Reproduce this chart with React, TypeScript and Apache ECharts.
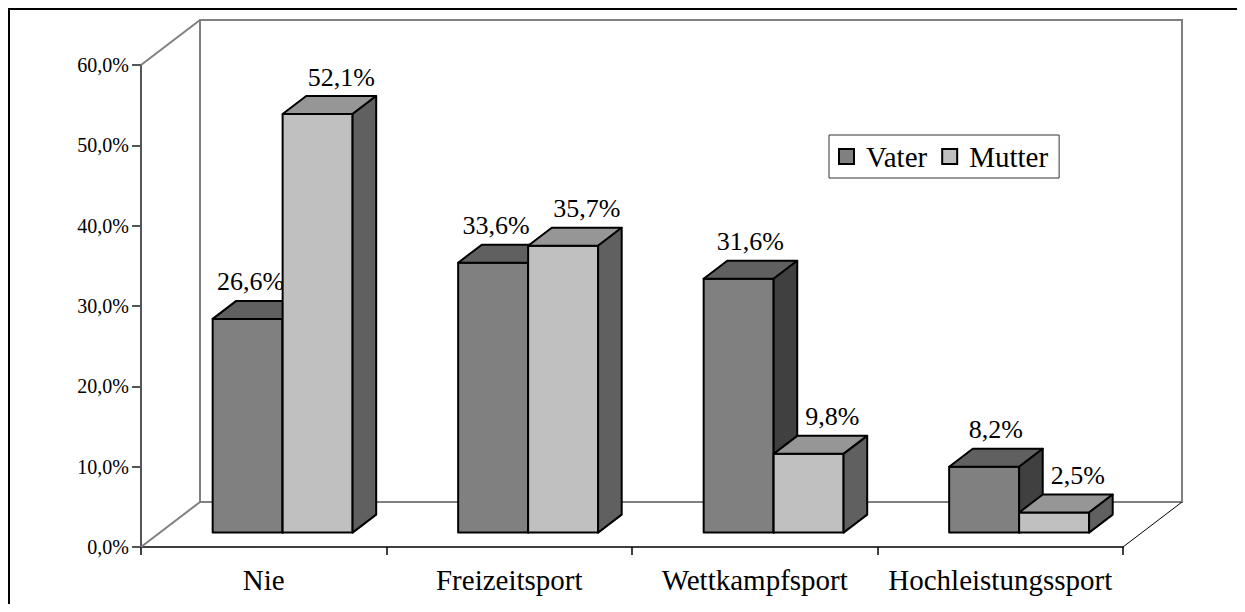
import React, { useEffect, useRef } from "react";
import * as echarts from "echarts";

const categories = ["Nie", "Freizeitsport", "Wettkampfsport", "Hochleistungssport"];
const seriesNames = ["Vater", "Mutter"];
const vaterValues = [26.6, 33.6, 31.6, 8.2];
const mutterValues = [52.1, 35.7, 9.8, 2.5];
const yTicks = [0, 10, 20, 30, 40, 50, 60];

const FONT = "Liberation Serif";
const DEPTH_X = 59;
const DEPTH_Y = 45;
const BAR_FRONT = 0.32;
const BAR_DEPTH = 0.4;
const BAR_RATIO = 0.285;

const faceColors = [
  { front: "#808080", top: "#606060", side: "#404040" },
  { front: "#c0c0c0", top: "#969696", side: "#606060" },
];

const fmt = (v: number) => v.toFixed(1).replace(".", ",") + "%";

function makeBarRenderer(k: number) {
  return (params: any, api: any) => {
    const i = api.value(0);
    const val = api.value(1);
    const base = api.coord([i, 0]);
    const topPt = api.coord([i, val]);
    const catW = api.size([1, 0])[0];
    const w = catW * BAR_RATIO;
    const ox = BAR_FRONT * DEPTH_X;
    const oy = BAR_FRONT * DEPTH_Y;
    const bdx = BAR_DEPTH * DEPTH_X;
    const bdy = BAR_DEPTH * DEPTH_Y;
    const L = base[0] + ox + (k === 0 ? -w : 0);
    const R = L + w;
    const y0 = base[1] - oy;
    const y1 = topPt[1] - oy;
    const c = faceColors[k];
    const stroke = { stroke: "#000", lineWidth: 2, lineJoin: "round" };
    let labelX: number;
    if (k === 1) {
      labelX = L + w / 2 + bdx;
    } else {
      const neighborTaller = mutterValues[params.dataIndex] > vaterValues[params.dataIndex];
      labelX = neighborTaller ? L + w / 2 + 3 : L + w / 2 + bdx / 2;
    }
    const labelY = y1 - bdy - 19;
    return {
      type: "group",
      children: [
        {
          type: "polygon",
          shape: { points: [[L, y0], [R, y0], [R, y1], [L, y1]] },
          style: { fill: c.front, ...stroke },
        },
        {
          type: "polygon",
          shape: { points: [[L, y1], [R, y1], [R + bdx, y1 - bdy], [L + bdx, y1 - bdy]] },
          style: { fill: c.top, ...stroke },
        },
        {
          type: "polygon",
          shape: { points: [[R, y1], [R + bdx, y1 - bdy], [R + bdx, y0 - bdy], [R, y0]] },
          style: { fill: c.side, ...stroke },
        },
        {
          type: "text",
          x: labelX,
          y: labelY,
          style: {
            text: fmt(val),
            fill: "#000",
            fontFamily: FONT,
            fontSize: 26,
            align: "center",
            verticalAlign: "middle",
          },
        },
      ],
    };
  };
}

function wallRenderer(params: any) {
  const cs = params.coordSys;
  const x = cs.x;
  const y = cs.y;
  const w = cs.width;
  const h = cs.height;
  const gray = { stroke: "#808080", lineWidth: 2 };
  return {
    type: "group",
    children: [
      {
        type: "polygon",
        shape: {
          points: [
            [x + DEPTH_X, y - DEPTH_Y],
            [x + w + DEPTH_X, y - DEPTH_Y],
            [x + w + DEPTH_X, y + h - DEPTH_Y],
            [x + DEPTH_X, y + h - DEPTH_Y],
          ],
        },
        style: { fill: "none", ...gray },
      },
      { type: "line", shape: { x1: x, y1: y, x2: x + DEPTH_X, y2: y - DEPTH_Y }, style: gray },
      { type: "line", shape: { x1: x, y1: y + h, x2: x + DEPTH_X, y2: y + h - DEPTH_Y }, style: gray },
      {
        type: "line",
        shape: { x1: x + w, y1: y + h, x2: x + w + DEPTH_X, y2: y + h - DEPTH_Y },
        style: { stroke: "#000", lineWidth: 1 },
      },
    ],
  };
}

export default function App() {
  const ref = useRef<HTMLDivElement>(null);
  useEffect(() => {
    if (!ref.current) return;
    const chart = echarts.init(ref.current, undefined, { renderer: "svg" });
    const option: any = {
      animation: false,
      backgroundColor: "#fff",
      textStyle: { fontFamily: FONT },
      grid: { left: 133, right: 114, top: 57, bottom: 65, containLabel: false, outerBoundsMode: "none" },
      xAxis: {
        type: "category",
        data: categories,
        boundaryGap: true,
        axisLine: { show: true, lineStyle: { color: "#000", width: 1.5 } },
        axisTick: { show: true, length: 8, interval: 0, lineStyle: { color: "#000", width: 1.5 } },
        axisLabel: { interval: 0, fontFamily: FONT, fontSize: 29, color: "#000", margin: 18 },
        splitLine: { show: false },
      },
      yAxis: {
        type: "value",
        min: yTicks[0],
        max: yTicks[yTicks.length - 1],
        interval: yTicks[1] - yTicks[0],
        axisLine: { show: true, lineStyle: { color: "#555", width: 2 } },
        axisTick: { show: true, length: 9, lineStyle: { color: "#555", width: 2 } },
        axisLabel: {
          formatter: (v: number) => fmt(v),
          fontFamily: FONT,
          fontSize: 20,
          color: "#000",
          margin: 12,
        },
        splitLine: { show: false },
      },
      legend: {
        data: seriesNames,
        left: 821,
        top: 127,
        orient: "horizontal",
        icon: "rect",
        itemWidth: 15,
        itemHeight: 15,
        itemGap: 14,
        padding: [7, 11, 7, 9],
        borderColor: "#333",
        borderWidth: 1,
        borderRadius: 0,
        backgroundColor: "#fff",
        selectedMode: false,
        textStyle: { fontFamily: FONT, fontSize: 29, color: "#000", padding: [0, 0, 0, 7] },
        itemStyle: { borderColor: "#000", borderWidth: 2 },
      },
      graphic: [
        { type: "line", shape: { x1: 0, y1: 1, x2: 1237, y2: 1 }, style: { stroke: "#000", lineWidth: 2 } },
        { type: "line", shape: { x1: 1, y1: 0, x2: 1, y2: 604 }, style: { stroke: "#000", lineWidth: 2 } },
      ],
      series: [
        {
          type: "custom",
          silent: true,
          z: 1,
          clip: false,
          data: [[0, 0]],
          encode: { x: 0, y: 1 },
          renderItem: wallRenderer,
        },
        {
          type: "custom",
          name: seriesNames[0],
          z: 2,
          clip: false,
          itemStyle: { color: faceColors[0].front },
          data: vaterValues.map((v, i) => [i, v]),
          encode: { x: 0, y: 1 },
          renderItem: makeBarRenderer(0),
        },
        {
          type: "custom",
          name: seriesNames[1],
          z: 3,
          clip: false,
          itemStyle: { color: faceColors[1].front },
          data: mutterValues.map((v, i) => [i, v]),
          encode: { x: 0, y: 1 },
          renderItem: makeBarRenderer(1),
        },
      ],
    };
    chart.setOption(option);
    return () => chart.dispose();
  }, []);
  return <div ref={ref} style={{ width: 1229, height: 604, marginBottom: -8 }} />;
}
